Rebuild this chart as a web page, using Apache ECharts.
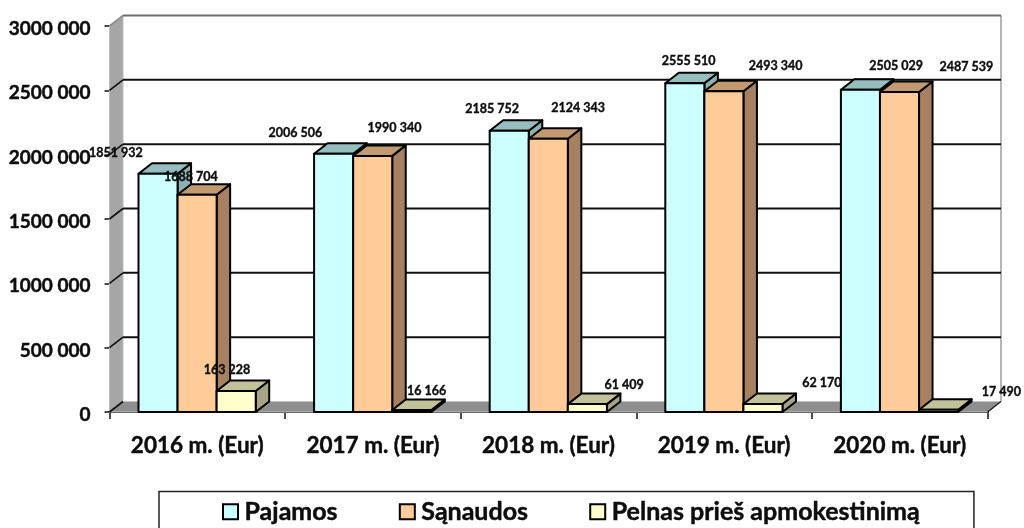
<!DOCTYPE html>
<html>
<head>
<meta charset="utf-8">
<script src="https://cdn.jsdelivr.net/npm/echarts@6/dist/echarts.min.js"></script>
<style>html,body{margin:0;padding:0;background:#fff;overflow:hidden}#c{width:1024px;height:528px}</style>
</head>
<body>
<div id="c"></div>
<script>
const categories = ['2016 m. (Eur)', '2017 m. (Eur)', '2018 m. (Eur)', '2019 m. (Eur)', '2020 m. (Eur)'];
const pajamos = [1851932, 2006506, 2185752, 2555510, 2505029];
const sanaudos = [1688704, 1990340, 2124343, 2493340, 2487539];
const pelnas = [163228, 16166, 61409, 62170, 17490];
const tickValues = [0, 500000, 1000000, 1500000, 2000000, 2500000, 3000000];

// hand-placed label offsets from the bar's top-centre, as in the reference
const pajamosLabelOffsets = [[-42, -21], [-38, -21], [-17, -22], [4, -23], [36, -24]];
const sanaudosLabelOffsets = [[-6, -18], [22, -28], [30, -31], [52, -26], [67, -25]];
const pelnasLabelOffsets = [[-9, -22], [15, -19], [37, -20], [59, -22], [63, -18]];

const DX = 13.5, DY = -10.5, BAR_FRAC = 0.2225;
const FONT = 'Lato, Carlito, "Open Sans", sans-serif';
const INK = '#0d0d0d';
const fmt = v => { const s = String(v); return s.length > 3 ? s.slice(0, -3) + ' ' + s.slice(-3) : s; };

function barSeries(name, values, offsets, index, front, top, side) {
  return {
    type: 'custom', name, silent: true, clip: false,
    itemStyle: { color: front, borderColor: '#000', borderWidth: 2 },
    data: values.map((v, i) => [i, v]),
    renderItem(params, api) {
      const i = params.dataIndex;
      const base = api.coord([api.value(0), 0]);
      const tip = api.coord([api.value(0), api.value(1)]);
      const w = api.size([1, 0])[0] * BAR_FRAC;
      const x0 = base[0] + (index - 1.5) * w - 0.2;
      const x1 = x0 + w;
      const y0 = base[1], y1 = tip[1];
      const edge = { stroke: '#000', lineWidth: 2, lineJoin: 'round' };
      const off = offsets[i];
      return {
        type: 'group',
        children: [
          { type: 'polygon', shape: { points: [[x1, y0], [x1 + DX, y0 + DY], [x1 + DX, y1 + DY], [x1, y1]] },
            style: Object.assign({ fill: side }, edge) },
          { type: 'polygon', shape: { points: [[x0, y1], [x0 + DX, y1 + DY], [x1 + DX, y1 + DY], [x1, y1]] },
            style: Object.assign({ fill: top }, edge) },
          { type: 'rect', shape: { x: x0, y: y1, width: w, height: y0 - y1 },
            style: Object.assign({ fill: front }, edge) },
          { type: 'text', z2: 100, style: {
              text: fmt(api.value(1)), x: x0 + w / 2 + off[0] - 0.2, y: y1 + off[1] + 0.5,
              align: 'center', verticalAlign: 'middle',
              font: 'bold 12.5px ' + FONT, fill: INK, stroke: INK, lineWidth: 0.35 } }
        ]
      };
    }
  };
}

const frameSeries = {
  type: 'custom', name: 'frame', silent: true, clip: false,
  data: tickValues.map(v => [0, v]),
  renderItem(params, api) {
    const cs = params.coordSys;
    const v = api.value(1);
    const y = api.coord([0, v])[1];
    const xL = cs.x, xR = cs.x + cs.width;
    const children = [];
    if (v === 0) {
      const yT = api.coord([0, tickValues[tickValues.length - 1]])[1];
      children.push(
        { type: 'polygon', shape: { points: [[xL, yT], [xL + DX, yT + DY], [xL + DX, y + DY], [xL, y]] },
          style: { fill: '#a6a6a6', stroke: '#bdbdbd', lineWidth: 1 } },
        { type: 'polygon', shape: { points: [[xL, y], [xL + DX, y + DY], [xR + DX, y + DY], [xR, y]] },
          style: { fill: '#8e8e8e', stroke: '#c4c4c4', lineWidth: 1 } },
        { type: 'line', shape: { x1: xR + DX, y1: yT + DY, x2: xR + DX, y2: y + DY },
          style: { stroke: '#b5b5b5', lineWidth: 2 } },
        { type: 'line', shape: { x1: xR, y1: y, x2: xR + DX, y2: y + DY },
          style: { stroke: '#222', lineWidth: 1.5 } }
      );
    }
    const isTop = v === tickValues[tickValues.length - 1];
    if (v !== 0) {
      children.push(
        { type: 'line', shape: { x1: xL + DX, y1: y + DY, x2: xR + DX, y2: y + DY },
          style: { stroke: isTop ? '#6e6e6e' : '#111', lineWidth: 2 } }
      );
    }
    children.push(
      { type: 'line', shape: { x1: xL, y1: y, x2: xL + DX, y2: y + DY },
        style: { stroke: isTop ? '#8c8c8c' : '#111', lineWidth: 1.6 } }
    );
    return { type: 'group', children };
  }
};

const seriesColors = [
  ['Pajamos', '#ccffff', '#97bebe', '#8cb1b1'],
  ['Sąnaudos', '#ffcc99', '#c29a70', '#a68060'],
  ['Pelnas prieš apmokestinimą', '#ffffcc', '#c2c29a', '#a5a583']
];
const textThicken = { textBorderColor: INK, textBorderWidth: 0.45 };

const chart = echarts.init(document.getElementById('c'), null, { renderer: 'canvas' });
chart.setOption({
  animation: false,
  backgroundColor: '#fff',
  grid: { left: 109.5, right: 36.5, top: 26, bottom: 116, containLabel: false },
  legend: {
    left: 159, top: 491.5,
    padding: [7.5, 54, 20, 63],
    backgroundColor: '#fff', borderColor: '#222', borderWidth: 1.5,
    itemGap: 61, itemWidth: 15, itemHeight: 15,
    icon: 'rect',
    selectedMode: false,
    textStyle: Object.assign({ fontFamily: FONT, fontWeight: 'bold', fontSize: 25, color: INK, padding: [0, 0, 0, 1.5] }, textThicken),
    data: seriesColors.map(c => ({
      name: c[0], icon: 'rect',
      itemStyle: { color: c[1], borderColor: '#000', borderWidth: 2 }
    }))
  },
  xAxis: {
    type: 'category', data: categories, boundaryGap: true,
    axisLine: { show: true, onZero: true, lineStyle: { color: '#111', width: 2 } },
    axisTick: { show: true, length: 7, alignWithLabel: false, lineStyle: { color: '#111', width: 1.5 } },
    axisLabel: Object.assign({ fontFamily: FONT, fontWeight: 'bold', fontSize: 22.5, color: INK, margin: 22, interval: 0 }, textThicken)
  },
  yAxis: {
    type: 'value', min: 0, max: 3000000, interval: 500000,
    splitLine: { show: false },
    axisLine: { show: true, lineStyle: { color: '#111', width: 2 } },
    axisTick: { show: true, length: 5, lineStyle: { color: '#111', width: 1.5 } },
    axisLabel: Object.assign({ fontFamily: FONT, fontWeight: 'bold', fontSize: 19, color: INK, margin: 19, verticalAlign: 'top', lineHeight: 6, formatter: fmt }, textThicken)
  },
  series: [
    frameSeries,
    barSeries(seriesColors[0][0], pajamos, pajamosLabelOffsets, 0, seriesColors[0][1], seriesColors[0][2], seriesColors[0][3]),
    barSeries(seriesColors[1][0], sanaudos, sanaudosLabelOffsets, 1, seriesColors[1][1], seriesColors[1][2], seriesColors[1][3]),
    barSeries(seriesColors[2][0], pelnas, pelnasLabelOffsets, 2, seriesColors[2][1], seriesColors[2][2], seriesColors[2][3])
  ]
});
</script>
</body>
</html>
